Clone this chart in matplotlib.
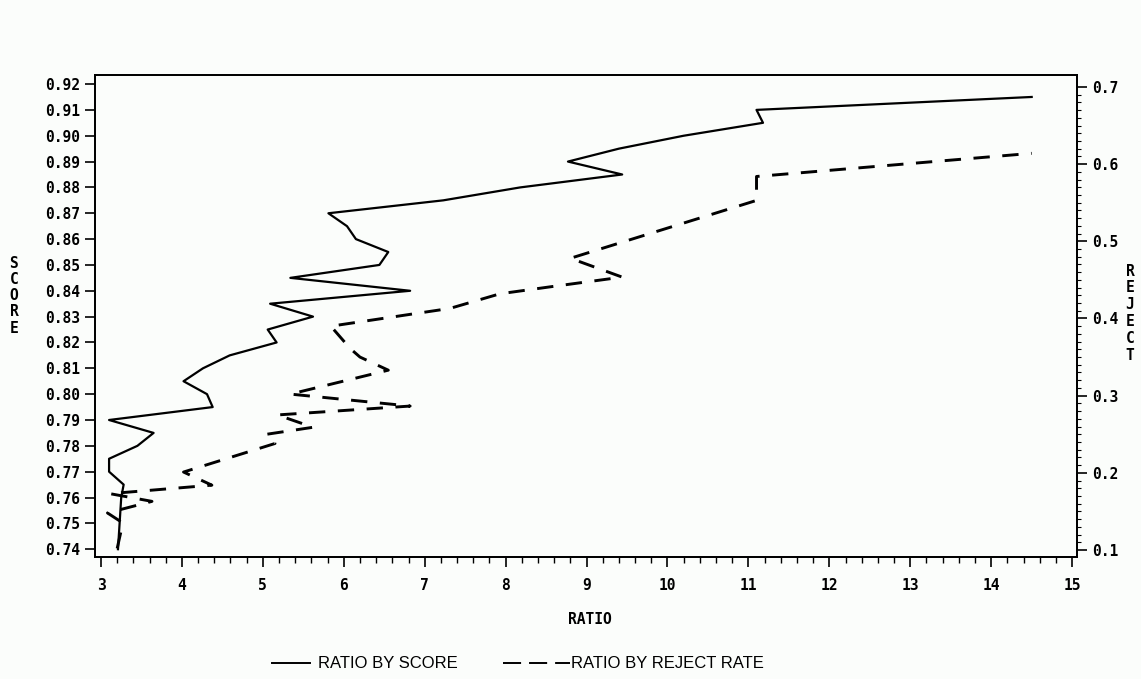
import numpy as np
import matplotlib.pyplot as plt

# ratio by score (left axis)
score = [0.740, 0.745, 0.750, 0.755, 0.760, 0.765, 0.770, 0.775, 0.780, 0.785,
         0.790, 0.795, 0.800, 0.805, 0.810, 0.815, 0.820, 0.825, 0.830, 0.835,
         0.840, 0.845, 0.850, 0.855, 0.860, 0.865, 0.870, 0.875, 0.880, 0.885,
         0.890, 0.895, 0.900, 0.905, 0.910, 0.915]
ratio_score = [3.21, 3.22, 3.23, 3.24, 3.25, 3.28, 3.10, 3.10, 3.45, 3.65,
               3.10, 4.38, 4.31, 4.02, 4.26, 4.59, 5.17, 5.06, 5.62, 5.09,
               6.82, 5.34, 6.44, 6.55, 6.15, 6.04, 5.81, 7.23, 8.18, 9.44,
               8.77, 9.40, 10.20, 11.18, 11.10, 14.50]

# ratio by reject rate (right axis)
reject = [0.102, 0.135, 0.148, 0.163, 0.173, 0.184, 0.201, 0.238, 0.250, 0.259,
          0.275, 0.2865, 0.302, 0.333, 0.350, 0.361, 0.390, 0.4066, 0.413, 0.432,
          0.441, 0.4536, 0.478, 0.553, 0.584, 0.614]
ratio_reject = [3.20, 3.27, 3.08, 3.63, 3.11, 4.37, 4.02, 5.15, 5.05, 5.62,
                5.18, 6.82, 5.34, 6.55, 6.20, 6.08, 5.84, 6.90, 7.31, 7.93,
                8.55, 9.44, 8.80, 11.10, 11.10, 14.50]

left_ticks = [0.74, 0.75, 0.76, 0.77, 0.78, 0.79, 0.80, 0.81, 0.82, 0.83,
              0.84, 0.85, 0.86, 0.87, 0.88, 0.89, 0.90, 0.91, 0.92]
right_ticks = [0.1, 0.2, 0.3, 0.4, 0.5, 0.6, 0.7]
x_ticks = list(range(3, 16))

bg = '#fbfdfb'
tickfont = dict(family='DejaVu Sans Mono', weight='bold', size=10.5)

fig = plt.figure(figsize=(11.41, 6.79), dpi=100, facecolor=bg)
ax = fig.add_axes([95 / 1141, 1 - 556.7 / 679, (1077 - 95) / 1141, (556.7 - 75) / 679])
ax.set_facecolor(bg)
ax2 = ax.twinx()

ax.plot(ratio_score, score, color='black', lw=1.6)
ax2.plot(ratio_reject, reject, color='black', lw=2.1, ls=(0, (5.6, 4.3)))

ax.set_xlim(2.926, 15.06)
ax.set_ylim(0.7371, 0.9235)
ax2.set_ylim(0.0913, 0.7155)

ax.set_xticks(x_ticks)
ax.set_xticklabels([str(v) for v in x_ticks], fontdict=tickfont)
ax.set_xticks(np.arange(3, 15.01, 0.2), minor=True)
ax.set_yticks(left_ticks)
ax.set_yticklabels(['%.2f' % v for v in left_ticks], fontdict=tickfont)
ax2.set_yticks(right_ticks)
ax2.set_yticklabels(['%.1f' % v for v in right_ticks], fontdict=tickfont)
ax2.set_yticks(np.arange(0.1, 0.7001, 0.01), minor=True)

ax.tick_params(axis='x', which='major', direction='out', length=7, width=1.2, pad=8)
ax.tick_params(axis='x', which='minor', direction='out', length=4, width=1.0)
ax.tick_params(axis='y', which='major', direction='out', length=7, width=1.2, pad=4)
ax2.tick_params(axis='y', which='major', direction='out', length=7, width=1.2, pad=4)
ax2.tick_params(axis='y', which='minor', direction='out', length=3, width=0.8)
for a in (ax, ax2):
    for s in a.spines.values():
        s.set_linewidth(1.3)

fig.text(590 / 1141, 1 - 620 / 679, 'RATIO', ha='center', va='center', **tickfont)
# stacked axis titles, one letter per line
for i, ch in enumerate('SCORE'):
    fig.text(14 / 1141, 1 - (264 + 16 * i) / 679, ch, ha='center', va='center', **tickfont)
for i, ch in enumerate('REJECT'):
    fig.text(1130 / 1141, 1 - (271 + 16.8 * i) / 679, ch, ha='center', va='center', **tickfont)

# legend along the bottom
lx = fig.add_axes([0, 0, 1, 0.05])
lx.set_xlim(0, 1141)
lx.set_ylim(0, 1)
lx.axis('off')
ly = (679 - 663) / (0.05 * 679)
lx.plot([272, 310], [ly, ly], color='black', lw=1.4)
lx.text(318, ly, 'RATIO BY SCORE', va='center', ha='left', family='Liberation Sans', size=12)
lx.plot([503, 570], [ly, ly], color='black', lw=1.4, ls=(0, (9.3, 4.1)))
lx.text(571, ly, 'RATIO BY REJECT RATE', va='center', ha='left', family='Liberation Sans', size=12)

fig.savefig('out.png', dpi=100, facecolor=bg)
